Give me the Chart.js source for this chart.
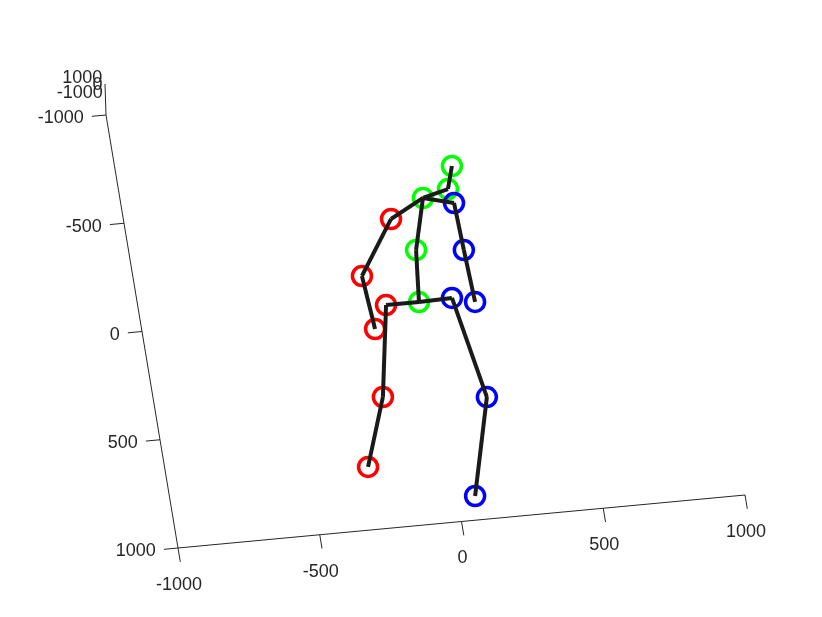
<!DOCTYPE html>
<html>
<head>
<meta charset="utf-8">
<script src="https://cdn.jsdelivr.net/npm/chart.js@4.4.1/dist/chart.umd.min.js"></script>
<style>
  html, body { margin: 0; padding: 0; background: #fff; }
</style>
</head>
<body>
<canvas id="pose" width="822" height="617"></canvas>
<script>
// axis ticks (same limits on all three axes)
const axisTicks = [-1000, -500, 0, 500, 1000];
const depthTicks = [-1000, 0, 1000];

// joints (17-joint skeleton), x = horizontal axis, y = vertical axis (down = +)
const jointNames = ['pelvis', 'rhip', 'rknee', 'rankle', 'lhip', 'lknee', 'lankle',
    'spine', 'thorax', 'neck', 'head', 'lshoulder', 'lelbow', 'lwrist',
    'rshoulder', 'relbow', 'rwrist'];
const jointX = [-21, -137, -201, -293, 96, 160, 62, -1, 53, 145, 172, 158, 165, 174, -70, -204, -189];
const jointY = [-16, -17, 400, 712, -21, 445, 890, -254, -488, -518, -621, -452, -234, 7, -406, -159, 88];

const rightJoints = [1, 2, 3, 14, 15, 16];
const leftJoints = [4, 5, 6, 11, 12, 13];
const centerJoints = [0, 7, 8, 9, 10];

const bones = [[0, 1], [1, 2], [2, 3], [0, 4], [4, 5], [5, 6], [0, 7], [7, 8],
    [8, 9], [9, 10], [8, 11], [11, 12], [12, 13], [8, 14], [14, 15], [15, 16]];

// camera view: where the box corner lands and how each axis runs on screen
const view = {
    origin: [178, 548],          // (x=-1000, y=1000, z=-1000)
    ex: [567, -53],              // per 2000 along x
    ey: [72, 433],               // per 2000 along y
    ez: [-1, -31]                // per 2000 along z
};

function proj(x, y, z = -1000) {
    const a = (x + 1000) / 2000, b = (y - 1000) / 2000, c = (z + 1000) / 2000;
    return {
        x: view.origin[0] + a * view.ex[0] + b * view.ey[0] + c * view.ez[0],
        y: view.origin[1] + a * view.ex[1] + b * view.ey[1] + c * view.ez[1]
    };
}

const axisColor = '#262626';
const datasets = [];

function segment(p, q, color, width, order) {
    datasets.push({
        type: 'line',
        data: [p, q],
        borderColor: color,
        borderWidth: width,
        pointRadius: 0,
        fill: false,
        tension: 0,
        order: order
    });
}

// box axes
segment(proj(-1000, 1000), proj(1000, 1000), axisColor, 1, 5);
segment(proj(-1000, 1000), proj(-1000, -1000), axisColor, 1, 5);
segment(proj(-1000, -1000, -1000), proj(-1000, -1000, 1000), axisColor, 1, 5);
axisTicks.forEach(t => {
    segment(proj(t, 1000), proj(t, 1064), axisColor, 1, 5);
    segment(proj(-1000, t), proj(-1050, t), axisColor, 1, 5);
});

// bones
bones.forEach(([a, b]) => {
    segment(proj(jointX[a], jointY[a]), proj(jointX[b], jointY[b]), '#1a1a1a', 4, 0);
});

// joints
function jointSet(idx, color) {
    datasets.push({
        type: 'scatter',
        data: idx.map(i => proj(jointX[i], jointY[i])),
        borderColor: color,
        backgroundColor: 'rgba(0,0,0,0)',
        borderWidth: 3.5,
        pointRadius: 9.5,
        pointHoverRadius: 9.5,
        order: 1
    });
}
jointSet(rightJoints, '#ff0000');
jointSet(leftJoints, '#0000ff');
jointSet(centerJoints, '#00ff00');

// tick labels placed through the chart scales
const tickLabels = {
    id: 'tickLabels',
    afterDraw(chart) {
        const ctx = chart.ctx;
        const sx = chart.scales.x, sy = chart.scales.y;
        ctx.save();
        ctx.fillStyle = axisColor;
        ctx.font = '18px "Liberation Sans", Arial, sans-serif';

        ctx.textAlign = 'center';
        ctx.textBaseline = 'middle';
        axisTicks.forEach(t => {
            const p = proj(t, 1000);
            ctx.fillText(String(t), sx.getPixelForValue(p.x) + 1, sy.getPixelForValue(p.y) + 37);
        });

        ctx.textAlign = 'right';
        axisTicks.forEach(t => {
            const p = proj(-1050, t);
            ctx.fillText(String(t), sx.getPixelForValue(p.x) - 8, sy.getPixelForValue(p.y) + 2);
        });

        // depth axis is nearly end-on, its labels crowd together
        depthTicks.forEach(t => {
            const p = proj(-1000, -1000, t / 2);
            ctx.fillText(String(t), sx.getPixelForValue(p.x) - 3, sy.getPixelForValue(p.y) - 14);
        });
        ctx.restore();
    }
};

new Chart(document.getElementById('pose'), {
    type: 'scatter',
    data: { datasets: datasets },
    options: {
        responsive: false,
        animation: false,
        devicePixelRatio: 1,
        layout: { padding: 0, autoPadding: false },
        plugins: { legend: { display: false }, tooltip: { enabled: false } },
        scales: {
            x: { type: 'linear', min: 0, max: 822, display: false },
            y: { type: 'linear', min: 0, max: 617, reverse: true, display: false }
        }
    },
    plugins: [tickLabels]
});
</script>
</body>
</html>
